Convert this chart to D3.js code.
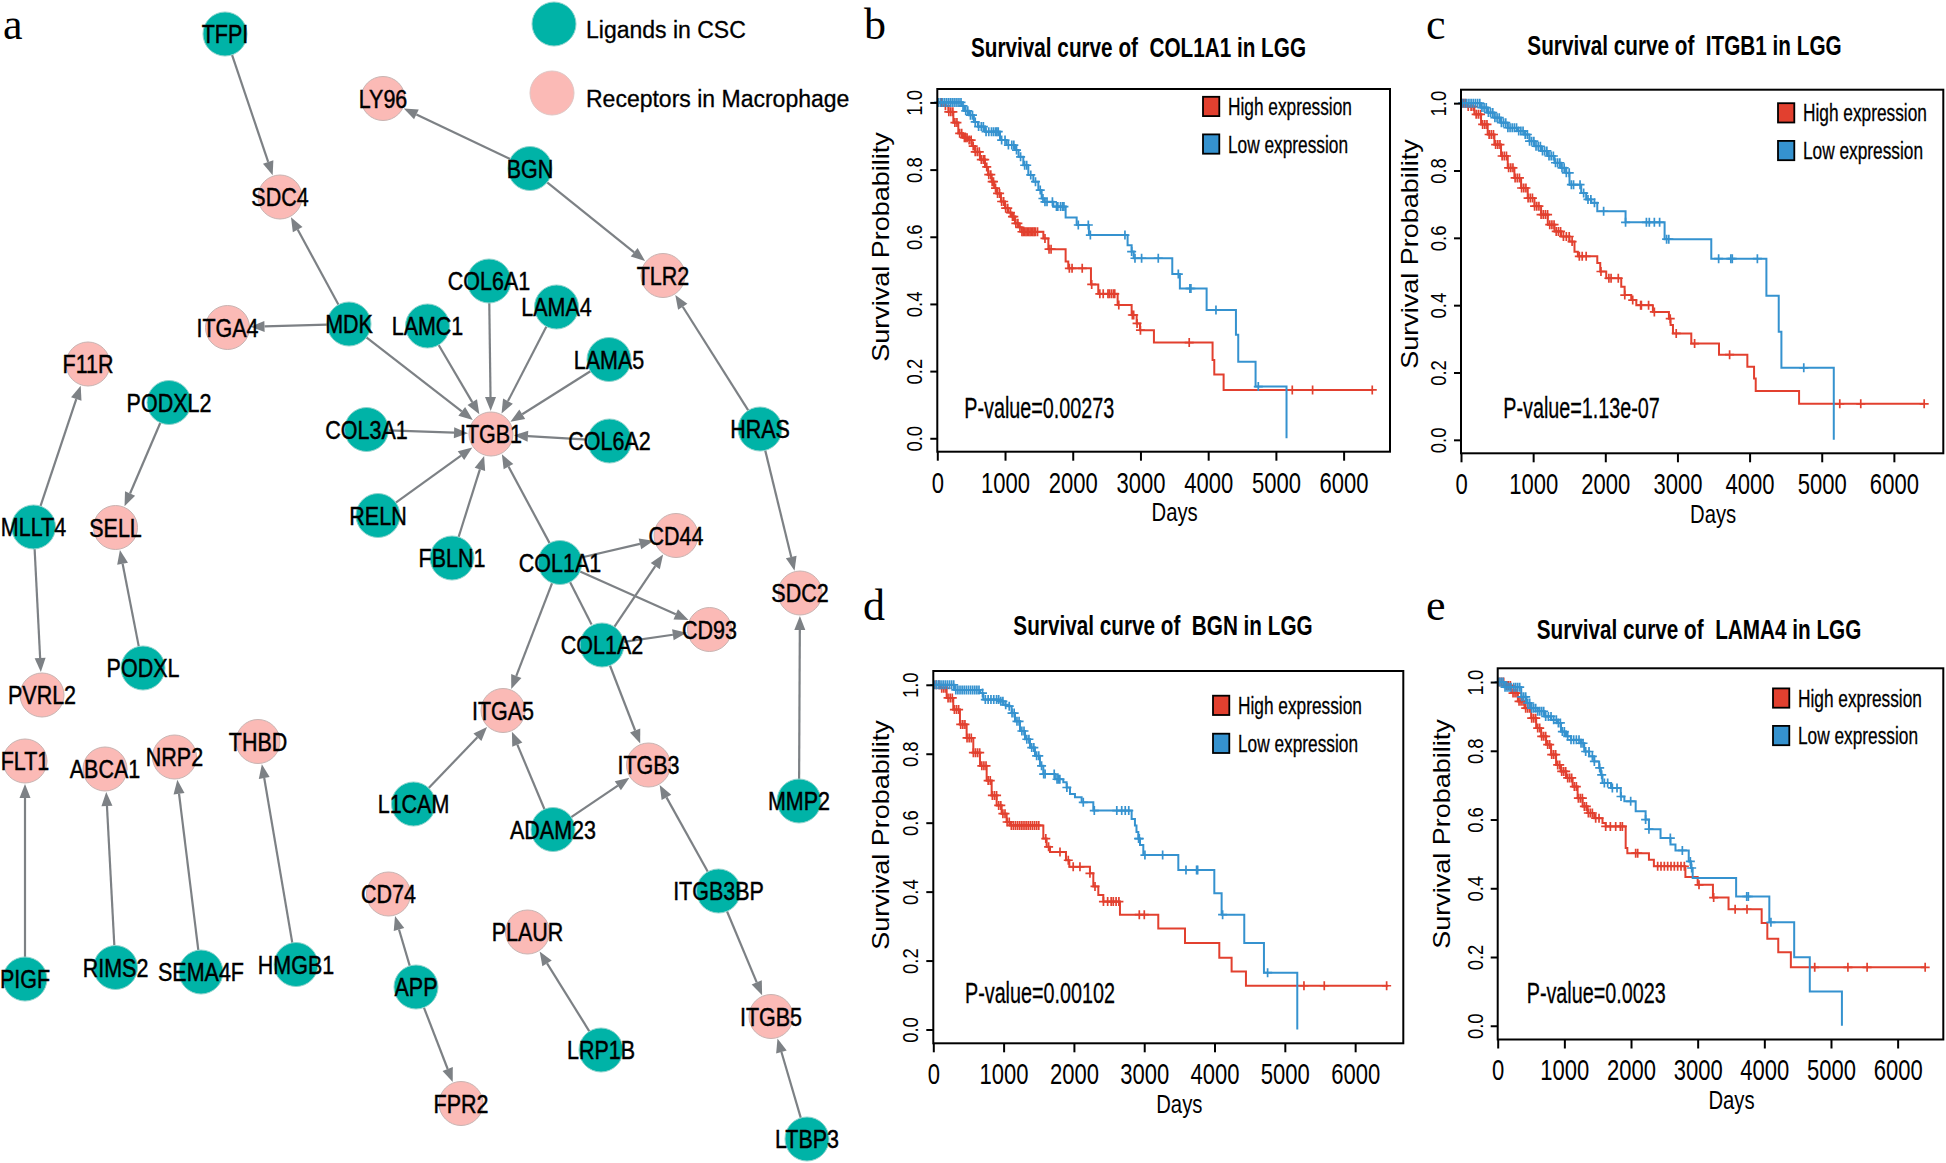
<!DOCTYPE html>
<html><head><meta charset="utf-8">
<script src="https://cdn.jsdelivr.net/npm/d3@7"></script>
<style>body{margin:0;background:#fff}svg{display:block}</style>
</head><body>
<script>
// ================= DATA =================
// Panel a: ligand–receptor network
const ligands = ["TFPI","BGN","MDK","COL6A1","LAMA4","LAMC1","LAMA5","COL3A1","COL6A2","HRAS","RELN","FBLN1","COL1A1","COL1A2","PODXL2","MLLT4","PODXL","L1CAM","ADAM23","MMP2","ITGB3BP","PIGF","RIMS2","SEMA4F","HMGB1","APP","LRP1B","LTBP3"];
const receptors = ["LY96","SDC4","TLR2","ITGA4","F11R","ITGB1","SELL","CD44","CD93","SDC2","PVRL2","ITGA5","ITGB3","FLT1","ABCA1","NRP2","THBD","CD74","PLAUR","ITGB5","FPR2"];
const edges = [["TFPI","SDC4"],["BGN","LY96"],["BGN","TLR2"],["MDK","SDC4"],["MDK","ITGA4"],["MDK","ITGB1"],
 ["LAMC1","ITGB1"],["COL6A1","ITGB1"],["LAMA4","ITGB1"],["LAMA5","ITGB1"],["COL6A2","ITGB1"],["COL3A1","ITGB1"],
 ["RELN","ITGB1"],["FBLN1","ITGB1"],["COL1A1","ITGB1"],["HRAS","TLR2"],["HRAS","SDC2"],["MLLT4","F11R"],["MLLT4","PVRL2"],
 ["PODXL2","SELL"],["PODXL","SELL"],["COL1A1","CD44"],["COL1A1","CD93"],["COL1A1","ITGA5"],["COL1A2","CD44"],["COL1A2","CD93"],
 ["COL1A2","ITGB3"],["L1CAM","ITGA5"],["ADAM23","ITGA5"],["ADAM23","ITGB3"],["ITGB3BP","ITGB3"],["ITGB3BP","ITGB5"],
 ["LTBP3","ITGB5"],["MMP2","SDC2"],["PIGF","FLT1"],["RIMS2","ABCA1"],["SEMA4F","NRP2"],["HMGB1","THBD"],["APP","CD74"],
 ["APP","FPR2"],["LRP1B","PLAUR"]];
const plainLinks = [["COL1A1","COL1A2"]];
const netLegend = ["Ligands in CSC","Receptors in Macrophage"];

// Panels b–e: Kaplan–Meier curves
const survGenes = ["COL1A1","ITGB1","BGN","LAMA4"];
const pValues = ["0.00273","1.13e-07","0.00102","0.0023"];
const groupLabels = ["High expression","Low expression"];
const dayTicks = [0,1000,2000,3000,4000,5000,6000];
const probTicks = [0,0.2,0.4,0.6,0.8,1.0];

// [day, survival after that day]
const bHighSteps = [[0,1],[80,0.99],[163,0.972],[237,0.94],[310,0.908],[380,0.895],[458,0.888],[510,0.87],[557,0.853],[630,0.83],[704,0.808],[750,0.785],[803,0.764],[840,0.745],[877,0.729],[940,0.705],[1000,0.685],[1050,0.672],[1098,0.66],[1147,0.64],[1200,0.628],[1245,0.615],[1566,0.595],[1640,0.563],[1895,0.526],[1934,0.506],[2269,0.458],[2377,0.43],[2663,0.397],[2870,0.367],[2944,0.342],[2993,0.322],[3199,0.285],[4065,0.233],[4090,0.19],[4228,0.144],[6437,0.144]];
const bHighCensor = [60,120,170,200,230,260,290,330,360,400,420,440,470,500,530,560,590,620,650,680,700,730,760,790,810,830,860,890,920,950,980,1010,1040,1080,1110,1130,1160,1190,1220,1250,1270,1290,1310,1330,1350,1370,1390,1410,1430,1450,1480,1590,1650,1680,1950,1990,2140,2280,2400,2450,2520,2540,2570,2600,2620,2680,2880,2900,2950,3000,3720,5242,5542,6423];
const bLowSteps = [[0,1],[360,0.99],[400,0.975],[468,0.962],[540,0.942],[600,0.928],[704,0.913],[926,0.888],[1024,0.873],[1147,0.858],[1200,0.838],[1270,0.813],[1344,0.784],[1418,0.764],[1492,0.739],[1541,0.714],[1580,0.704],[1714,0.69],[1895,0.657],[2058,0.635],[2239,0.605],[2810,0.575],[2870,0.556],[2900,0.536],[3470,0.489],[3582,0.446],[3977,0.382],[4410,0.308],[4444,0.228],[4700,0.154],[5157,0]];
const bLowCensor = [20,50,80,110,140,170,200,230,260,290,320,350,380,420,450,490,520,560,610,650,680,720,760,800,830,860,880,900,950,1000,1050,1100,1130,1170,1230,1290,1320,1380,1450,1520,1560,1590,1620,1700,1760,1780,1820,1850,1870,2082,2230,2260,2771,2870,2919,3017,3263,3559,3730,3745,4115,4740];

const cHighSteps = [[0,1],[93,0.99],[185,0.967],[278,0.937],[370,0.907],[463,0.877],[555,0.843],[648,0.808],[740,0.778],[833,0.748],[925,0.718],[1018,0.694],[1110,0.669],[1203,0.639],[1296,0.619],[1388,0.604],[1504,0.589],[1573,0.559],[1620,0.545],[1889,0.525],[1930,0.5],[2013,0.48],[2221,0.455],[2268,0.43],[2360,0.415],[2430,0.4],[2660,0.38],[2882,0.36],[2905,0.341],[2938,0.316],[3192,0.286],[3576,0.253],[3969,0.217],[4062,0.182],[4085,0.145],[4686,0.107],[6430,0.107]];
const cHighCensor = [30,60,100,140,170,210,240,270,300,330,360,390,420,450,480,510,540,570,600,630,660,690,720,750,780,810,840,870,900,930,960,990,1020,1050,1080,1110,1140,1170,1200,1230,1260,1290,1320,1350,1380,1420,1460,1500,1540,1640,1680,1735,1940,2050,2080,2180,2270,2380,2490,2500,2600,2680,2900,2983,3238,3723,5250,5541,6420];
const cLowSteps = [[0,1],[278,0.987],[370,0.972],[463,0.957],[555,0.942],[648,0.927],[787,0.917],[879,0.907],[949,0.887],[1018,0.872],[1110,0.858],[1203,0.843],[1296,0.823],[1388,0.808],[1457,0.793],[1504,0.758],[1666,0.733],[1735,0.714],[1805,0.704],[1889,0.679],[2281,0.646],[2822,0.596],[3469,0.538],[4233,0.428],[4404,0.321],[4441,0.214],[5167,0]];
const cLowCensor = [20,50,80,110,140,170,200,230,260,290,320,350,380,410,440,470,500,530,560,590,620,650,680,710,740,770,800,830,860,890,920,950,980,1010,1040,1070,1100,1130,1160,1190,1220,1250,1280,1310,1340,1370,1400,1430,1460,1500,1530,1560,1650,1700,1760,1800,1850,1977,2281,2570,2610,2680,2753,2850,2880,3571,3740,3760,4108,4751];

const dHighSteps = [[0,1],[95,0.99],[190,0.962],[284,0.928],[379,0.885],[474,0.846],[569,0.803],[664,0.765],[759,0.722],[830,0.679],[901,0.65],[972,0.626],[1043,0.602],[1100,0.592],[1565,0.554],[1612,0.53],[1660,0.515],[1887,0.491],[1935,0.472],[2228,0.453],[2276,0.415],[2347,0.39],[2418,0.371],[2655,0.333],[3200,0.293],[3580,0.251],[4068,0.208],[4243,0.168],[4447,0.127],[6471,0.127]];
const dHighCensor = [40,80,120,150,180,210,240,270,300,330,360,390,420,450,480,510,540,570,600,630,660,690,720,750,780,810,840,870,900,930,960,990,1020,1050,1080,1110,1140,1170,1200,1230,1260,1290,1320,1350,1380,1410,1440,1470,1500,1600,1640,1802,1920,1990,2086,2228,2300,2420,2480,2530,2560,2600,2640,2930,3001,5272,5561,6448];
const dLowSteps = [[0,1],[300,0.985],[664,0.976],[711,0.957],[948,0.952],[1000,0.942],[1067,0.938],[1114,0.918],[1162,0.894],[1233,0.866],[1304,0.842],[1375,0.818],[1446,0.794],[1517,0.765],[1565,0.741],[1730,0.726],[1849,0.717],[1896,0.702],[1944,0.683],[2015,0.674],[2110,0.659],[2276,0.635],[2821,0.611],[2868,0.592],[2890,0.573],[2916,0.554],[2940,0.535],[2987,0.506],[3485,0.463],[3997,0.395],[4101,0.333],[4423,0.251],[4703,0.165],[5177,0]];
const dLowCensor = [20,50,80,110,140,170,200,230,260,290,320,350,380,410,440,470,500,530,560,590,620,650,700,740,780,820,860,900,930,960,990,1030,1080,1120,1150,1190,1220,1260,1290,1330,1360,1400,1430,1470,1500,1540,1570,1590,1720,1760,1780,1800,1900,2133,2290,2610,2680,2730,2780,2920,2930,3010,3262,3594,3745,3760,4115,4755];

const eHighSteps = [[0,1],[100,0.99],[204,0.968],[303,0.944],[403,0.924],[502,0.895],[577,0.866],[652,0.842],[726,0.818],[801,0.789],[876,0.759],[950,0.74],[1025,0.721],[1124,0.696],[1199,0.662],[1274,0.638],[1348,0.619],[1448,0.604],[1572,0.59],[1620,0.58],[1920,0.517],[1945,0.502],[2269,0.483],[2343,0.464],[2816,0.433],[3000,0.41],[3229,0.373],[3463,0.339],[3960,0.299],[4045,0.253],[4209,0.214],[4398,0.17],[6423,0.17]];
const eHighCensor = [30,60,90,130,160,190,230,260,290,320,350,380,420,450,480,510,540,570,600,630,660,690,720,750,780,810,840,870,900,930,960,990,1020,1050,1080,1110,1150,1180,1210,1240,1270,1300,1330,1360,1390,1420,1470,1520,1620,1690,1770,1840,1870,2070,2100,2400,2450,2500,2550,2600,2650,2700,2750,2800,3020,3240,3562,3740,4756,5254,5542,6413];
const eLowSteps = [[0,1],[100,0.985],[353,0.957],[428,0.939],[502,0.924],[600,0.915],[701,0.9],[801,0.89],[900,0.881],[950,0.856],[1025,0.842],[1099,0.832],[1249,0.822],[1298,0.798],[1373,0.784],[1448,0.769],[1522,0.75],[1547,0.73],[1572,0.706],[1700,0.692],[1846,0.667],[1900,0.653],[2070,0.624],[2219,0.6],[2269,0.572],[2443,0.546],[2592,0.527],[2667,0.51],[2866,0.478],[2900,0.459],[2925,0.43],[3577,0.376],[4075,0.301],[4448,0.199],[4682,0.1],[5164,0]];
const eLowCensor = [20,50,80,110,140,170,200,240,270,300,330,360,390,420,450,480,510,540,570,600,630,660,690,720,760,800,840,880,910,940,970,1000,1050,1100,1140,1180,1220,1250,1280,1320,1370,1420,1450,1530,1560,1600,1650,1720,1790,1850,1995,2219,2269,2590,2770,2890,2910,3736,3760,4099];

// ================= LAYOUT / STYLE =================
const W = 1946, H = 1163;
const FONT = "'Liberation Sans', Arial, Helvetica, sans-serif";
const SERIF = "'Liberation Serif', 'Times New Roman', serif";
const TEAL = "#00b3a7", PINK = "#fbbab6", EDGE = "#7d8185";
const RED = "#e2402f", BLUE = "#3592cf";
const R = 22;

const nodeLayout = {
  TFPI:[225,34], LY96:[383,98.5], BGN:[530,168.5], SDC4:[280,197], TLR2:[663,275.5], COL6A1:[489,281],
  LAMA4:[556.5,307], MDK:[349,324], ITGA4:[227.5,327.5], LAMC1:[427.5,326], LAMA5:[609,359.5], F11R:[88,364],
  PODXL2:[169,402.5], COL3A1:[366.5,429.5], ITGB1:[491,434], COL6A2:[609.5,441], HRAS:[760,429], RELN:[378,515.5],
  MLLT4:[33.5,527], SELL:[115.5,527.5], CD44:[676,535.5], FBLN1:[452,558], COL1A1:[560,562.5], COL1A2:[602,645],
  CD93:[709.5,629.5], ITGB3:[648.5,765], SDC2:[800,593], PODXL:[143,668], PVRL2:[42,695], ITGA5:[503,710.5],
  THBD:[258,741.5], FLT1:[25,761], ABCA1:[105,769], NRP2:[174.5,757], L1CAM:[413.5,804], MMP2:[799,801],
  ADAM23:[553,829.5], CD74:[388.5,894], ITGB3BP:[718.5,891], PLAUR:[527.5,932], HMGB1:[296,964.5], RIMS2:[115.5,967.5],
  SEMA4F:[201,972], PIGF:[25,979], APP:[416,987], ITGB5:[771,1016.5], LRP1B:[601,1050], FPR2:[461,1103.5], LTBP3:[807,1139]
};

const svg = d3.select("body").append("svg").attr("width", W).attr("height", H).attr("viewBox", `0 0 ${W} ${H}`);
svg.append("rect").attr("width", W).attr("height", H).attr("fill", "#fff");

function addText(parent, str, x, y, o = {}) {
  let tr = `translate(${x},${y})`;
  if (o.rot) tr += ` rotate(${o.rot})`;
  tr += ` scale(${o.kx ?? 1},${o.ky ?? 1})`;
  const t = parent.append("text").attr("transform", tr)
    .attr("text-anchor", o.anchor || "start")
    .attr("font-family", o.family || FONT)
    .attr("font-size", o.size || 20)
    .attr("font-weight", o.weight || "normal")
    .attr("fill", o.fill || "#000")
    .style("white-space", "pre")
    .text(str);
  if (o.sw) t.attr("stroke", o.fill || "#000").attr("stroke-width", o.sw);
  return t;
}

// ================= PANEL a =================
const netG = svg.append("g");
const edgeG = netG.append("g"), nodeG = netG.append("g"), labG = netG.append("g");
const AL = 14, AW = 5.5;
function link(s, t, arrow) {
  const [x1, y1] = nodeLayout[s], [x2, y2] = nodeLayout[t];
  const dx = x2 - x1, dy = y2 - y1, L = Math.hypot(dx, dy), ux = dx / L, uy = dy / L;
  const sx = x1 + ux * R, sy = y1 + uy * R;
  const tx = x2 - ux * (R + 1), ty = y2 - uy * (R + 1);
  const ex = arrow ? tx - ux * AL : tx, ey = arrow ? ty - uy * AL : ty;
  edgeG.append("line").attr("x1", sx).attr("y1", sy).attr("x2", ex).attr("y2", ey)
    .attr("stroke", EDGE).attr("stroke-width", 2.2);
  if (arrow) {
    edgeG.append("path")
      .attr("d", `M${tx},${ty}L${ex - uy * AW},${ey + ux * AW}L${ex + uy * AW},${ey - ux * AW}Z`)
      .attr("fill", EDGE);
  }
}
edges.forEach(([s, t]) => link(s, t, true));
plainLinks.forEach(([s, t]) => link(s, t, false));

const allNodes = ligands.map(id => ({ id, c: TEAL })).concat(receptors.map(id => ({ id, c: PINK })));
allNodes.forEach(n => {
  const [x, y] = nodeLayout[n.id];
  nodeG.append("circle").attr("cx", x).attr("cy", y).attr("r", R).attr("fill", n.c)
    .attr("stroke", n.c === TEAL ? "#8fd3cd" : "#c9b3b1").attr("stroke-width", 1);
  addText(labG, n.id, x, y + 9, { size: 25, kx: 0.86, anchor: "middle", sw: 0.45 });
});
// legend
[[TEAL, 554, 24], [PINK, 552, 93]].forEach(([c, x, y], i) => {
  netG.append("circle").attr("cx", x).attr("cy", y).attr("r", 22).attr("fill", c)
    .attr("stroke", c === TEAL ? "#8fd3cd" : "#e0c6c4").attr("stroke-width", 1);
  addText(netG, netLegend[i], 586, y + 13.5, { size: 23, sw: 0.3 });
});
addText(svg, "a", 3, 39, { size: 44, family: SERIF });

// ================= PANELS b–e =================
const X_MAX = 6685;
const survData = [
  { gene: survGenes[0], p: pValues[0], high: [bHighSteps, bHighCensor], low: [bLowSteps, bLowCensor] },
  { gene: survGenes[1], p: pValues[1], high: [cHighSteps, cHighCensor], low: [cLowSteps, cLowCensor] },
  { gene: survGenes[2], p: pValues[2], high: [dHighSteps, dHighCensor], low: [dLowSteps, dLowCensor] },
  { gene: survGenes[3], p: pValues[3], high: [eHighSteps, eHighCensor], low: [eLowSteps, eLowCensor] }
];
const panelLayout = [
  { letter: "b", lpos: [864, 39], box: [937.3, 89, 1390, 451.7], title: [1138.5, 57], leg: [1203, 106.4, 144], pv: [964.3, 418.3], ylab: [888.6, 247] },
  { letter: "c", lpos: [1426, 39], box: [1461, 89.7, 1943.3, 453.3], title: [1684.5, 55.4], leg: [1778, 112.8, 150.5], pv: [1503.3, 417.7], ylab: [1417.6, 254] },
  { letter: "d", lpos: [863, 620], box: [933.3, 671, 1403.3, 1043.3], title: [1163, 635], leg: [1213, 705.3, 743.3], pv: [965, 1003.3], ylab: [888.6, 835] },
  { letter: "e", lpos: [1426, 620], box: [1497.7, 668.3, 1943.3, 1039.5], title: [1699, 638.8], leg: [1773, 698, 735.5], pv: [1526.7, 1003.3], ylab: [1449.6, 834] }
];

function drawSurv(D, L) {
  const [l, t, r, b] = L.box;
  const x = d3.scaleLinear().domain([0, X_MAX]).range([l, r]);
  const y = d3.scaleLinear().domain([-0.04, 1.04]).range([b, t]);
  const g = svg.append("g");
  const line = d3.line().x(d => x(d[0])).y(d => y(d[1])).curve(d3.curveStepAfter);
  [[D.high, RED], [D.low, BLUE]].forEach(([[steps, cens], col]) => {
    g.append("path").attr("d", line(steps)).attr("fill", "none").attr("stroke", col).attr("stroke-width", 2);
    const sAt = tt => { let v = 1; for (const s of steps) { if (s[0] <= tt) v = s[1]; else break; } return v; };
    cens.forEach(c => {
      const cx = x(c), cy = y(sAt(c));
      g.append("path").attr("d", `M${cx},${cy - 4.5}V${cy + 4.5}M${cx - 4.5},${cy}H${cx + 4.5}`)
        .attr("stroke", col).attr("stroke-width", 1.7).attr("fill", "none");
    });
  });
  g.append("rect").attr("x", l).attr("y", t).attr("width", r - l).attr("height", b - t)
    .attr("fill", "none").attr("stroke", "#000").attr("stroke-width", 2);

  const ax = g.append("g").attr("transform", `translate(0,${b})`)
    .call(d3.axisBottom(x).tickValues(dayTicks).tickSize(9).tickFormat(d3.format("d")));
  ax.select(".domain").remove();
  ax.selectAll("line").attr("stroke", "#000").attr("stroke-width", 2);
  ax.selectAll("text").attr("y", 41).attr("dy", null).attr("font-size", 29).attr("font-family", FONT)
    .attr("fill", "#000").attr("text-anchor", "middle").attr("transform", "scale(0.76,1)");

  const ay = g.append("g").attr("transform", `translate(${l},0)`)
    .call(d3.axisLeft(y).tickValues(probTicks).tickSize(7).tickFormat(d3.format(".1f")));
  ay.select(".domain").remove();
  ay.selectAll("line").attr("stroke", "#000").attr("stroke-width", 2);
  ay.selectAll("text").attr("x", 0).attr("y", 0).attr("dy", null).attr("font-size", 22).attr("font-family", FONT)
    .attr("fill", "#000").attr("text-anchor", "middle").attr("transform", "translate(-15,0) rotate(-90) scale(0.84,1)");

  addText(g, "Days", (l + r) / 2 + 11, b + 69.3, { size: 26, kx: 0.78, anchor: "middle" });
  addText(g, "Survival Probability", L.ylab[0], L.ylab[1], { size: 27, rot: -90, ky: 0.91, anchor: "middle" });
  addText(g, `Survival curve of  ${D.gene} in LGG`, L.title[0], L.title[1], { size: 28, weight: "bold", kx: 0.74, anchor: "middle" });
  [RED, BLUE].forEach((c, i) => {
    const cy = L.leg[1 + i];
    g.append("rect").attr("x", L.leg[0]).attr("y", cy - 9.6).attr("width", 16.3).attr("height", 19.3)
      .attr("fill", c).attr("stroke", "#000").attr("stroke-width", 1.8);
    addText(g, groupLabels[i], L.leg[0] + 25, cy + 8.5, { size: 24, kx: 0.72, sw: 0.3 });
  });
  addText(g, "P-value=" + D.p, L.pv[0], L.pv[1], { size: 29.5, kx: 0.67, sw: 0.3 });
  addText(svg, L.letter, L.lpos[0], L.lpos[1], { size: 44, family: SERIF });
}
survData.forEach((D, i) => drawSurv(D, panelLayout[i]));
</script>
</body></html>
